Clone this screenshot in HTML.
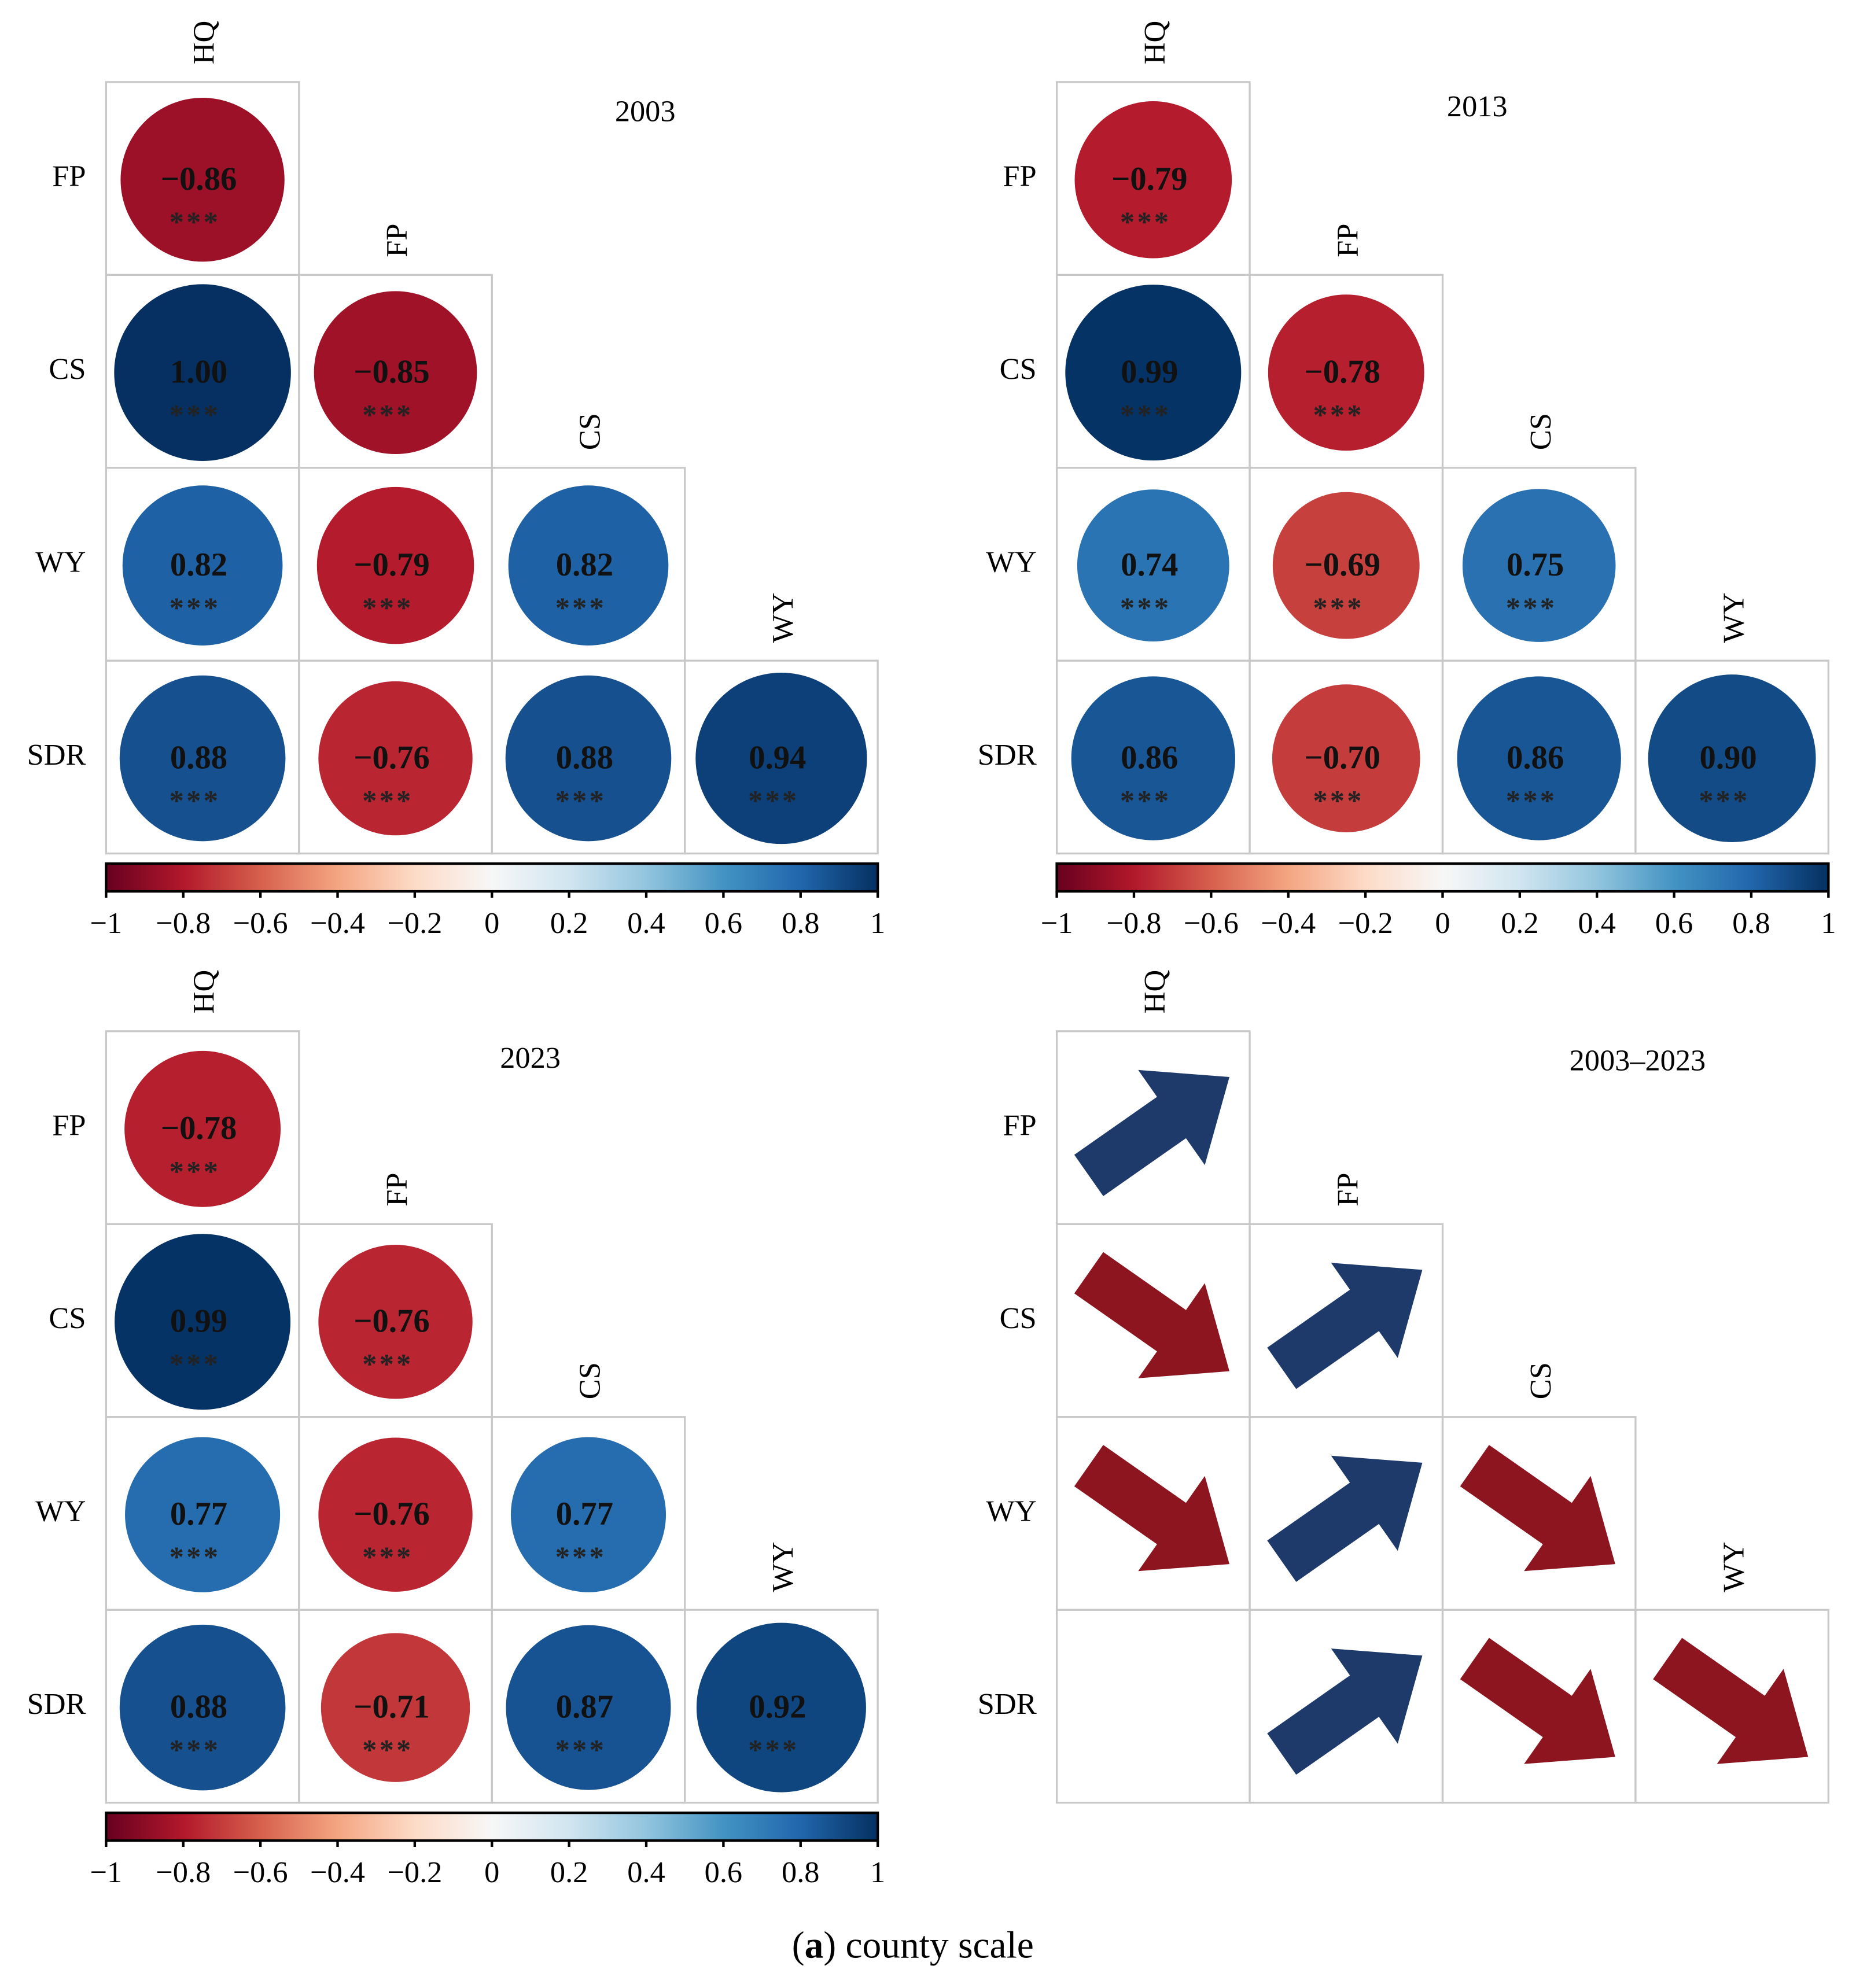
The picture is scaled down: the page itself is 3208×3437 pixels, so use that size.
<!DOCTYPE html>
<html><head><meta charset="utf-8"><style>
html,body{margin:0;padding:0;background:#fff;}
svg{display:block;}
text{font-family:"Liberation Serif",serif;}
</style></head><body>
<svg id="fig" xmlns="http://www.w3.org/2000/svg" width="3208" height="3437" viewBox="0 0 1470 1575">
<defs>
<linearGradient id="rdbu" x1="0" x2="1" y1="0" y2="0">
<stop offset="0" stop-color="#67001f"/><stop offset="0.1" stop-color="#b2182b"/><stop offset="0.2" stop-color="#d6604d"/><stop offset="0.3" stop-color="#f4a582"/><stop offset="0.4" stop-color="#fddbc7"/><stop offset="0.5" stop-color="#f7f7f7"/><stop offset="0.6" stop-color="#d1e5f0"/><stop offset="0.7" stop-color="#92c5de"/><stop offset="0.8" stop-color="#4393c3"/><stop offset="0.9" stop-color="#2166ac"/><stop offset="1" stop-color="#053061"/>
</linearGradient>
</defs>
<text x="723" y="1551" font-size="30" text-anchor="middle">(<tspan font-weight="bold">a</tspan>) county scale</text>
</svg>
<script>
const vars = ["HQ","FP","CS","WY","SDR"];
const vals2003 = [[-0.86],[1.00,-0.85],[0.82,-0.79,0.82],[0.88,-0.76,0.88,0.94]];
const vals2013 = [[-0.79],[0.99,-0.78],[0.74,-0.69,0.75],[0.86,-0.70,0.86,0.90]];
const vals2023 = [[-0.78],[0.99,-0.76],[0.77,-0.76,0.77],[0.88,-0.71,0.87,0.92]];
// trend: 1 = increase (up arrow), -1 = decrease, 0 = none
const trend = [[1],[-1,1],[-1,1,-1],[0,1,-1,-1]];
const ticks = [-1,-0.8,-0.6,-0.4,-0.2,0,0.2,0.4,0.6,0.8,1];
const tickLabels = ["\u22121","\u22120.8","\u22120.6","\u22120.4","\u22120.2","0","0.2","0.4","0.6","0.8","1"];
const titles = ["2003","2013","2023","2003\u20132023"];

const NS="http://www.w3.org/2000/svg";
const svg=document.getElementById('fig');
const stops=[[103,0,31],[178,24,43],[214,96,77],[244,165,130],[253,219,199],[247,247,247],[209,229,240],[146,197,222],[67,147,195],[33,102,172],[5,48,97]];
function color(v){let t=(v+1)/2*10;let i=Math.min(9,Math.floor(t));let f=t-i;const a=stops[i],b=stops[i+1];
return 'rgb('+a.map((c,k)=>Math.round(c+(b[k]-c)*f)).join(',')+')';}
function el(tag,attrs,parent){const e=document.createElementNS(NS,tag);for(const k in attrs)e.setAttribute(k,attrs[k]);(parent||svg).appendChild(e);return e;}
const C=152.8;
function panel(ox,oy,title,tx,ty,values,arrows,hasBar){
  const g=el('g',{});
  
  
  for(let i=0;i<4;i++){
    const y=oy+i*C;
    const rl=el('text',{x:ox-16,y:y+C/2+6,'font-size':24,'text-anchor':'end'},g);
    rl.textContent=vars[i+1];
    
    
    const cx=ox+i*C+C/2, ly=y-14;
    const cl=el('text',{x:0,y:0,'font-size':24,'text-anchor':'start',transform:`translate(${cx+9},${ly}) rotate(-90)`},g);
    cl.textContent=vars[i];
    
    
    for(let j=0;j<=i;j++){
      const x=ox+j*C;
      const r=el('rect',{x:x,y:y,width:C,height:C,fill:'none',stroke:'#c8c8c8','stroke-width':1.5},g);
      
      
      const mx=x+C/2, my=y+C/2;
      if(values){
        const v=values[i][j];
        const c=el('circle',{cx:mx,cy:my+1,r:70*Math.sqrt(Math.abs(v)),fill:color(v)},g);
        
        
        const t=el('text',{x:mx-3,y:my+9,'font-size':26,'font-weight':'bold','text-anchor':'middle',fill:'#111'},g);
        t.textContent=(v<0?'\u2212':'')+Math.abs(v).toFixed(2);
        
        
        const s=el('text',{x:mx-6,y:my+42,'font-size':23,'font-weight':'bold','letter-spacing':2,'text-anchor':'middle',fill:'#222'},g);
        s.textContent='***';
        
        
      } else {
        const d=arrows[i][j]; if(!d) continue;
        const ang=d>0?-35:35;
        const p=el('polygon',{points:'-66,-20 14,-20 14,-46 70,0 14,46 14,20 -66,20',fill:d>0?'#1d3a6b':'#8c1520',transform:`translate(${mx+3},${my}) rotate(${ang})`},g);
        
        
      }
    }
  }
  const tt=el('text',{x:tx,y:ty,'font-size':24,'text-anchor':'middle'},g);
  tt.textContent=title;
  
  
  if(hasBar){
    const by=oy+4*C+8, w=4*C;
    const b=el('rect',{x:ox,y:by,width:w,height:22,fill:'url(#rdbu)',stroke:'#000','stroke-width':2},g);
    
    
    ticks.forEach((tv,k)=>{
      const x=ox+(tv+1)/2*w;
      const tk=el('line',{x1:x,x2:x,y1:by+22,y2:by+27,stroke:'#000','stroke-width':2},g);
      
      
      const tl=el('text',{x:x,y:by+55,'font-size':24,'text-anchor':'middle'},g);
      tl.textContent=tickLabels[k];
      
      
    });
  }
}
panel(84,65,titles[0],511,96,vals2003,null,true);
panel(837,65,titles[1],1170,92,vals2013,null,true);
panel(84,817,titles[2],420,846,vals2023,null,true);
panel(837,817,titles[3],1297,848,null,trend,false);
</script>
</body></html>
